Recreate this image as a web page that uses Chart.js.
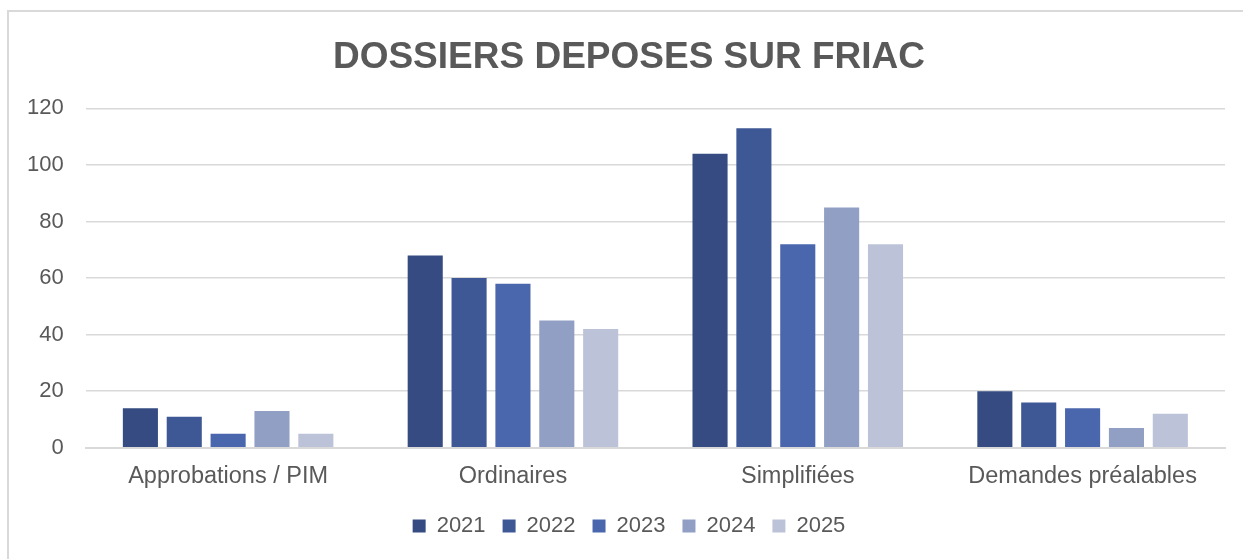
<!DOCTYPE html>
<html>
<head>
<meta charset="utf-8">
<script src="https://cdn.jsdelivr.net/npm/chart.js@4/dist/chart.umd.min.js"></script>
<style>
  html, body { margin: 0; padding: 0; background: #fff; overflow: hidden; }
  #cadre { position: absolute; left: 7px; top: 10px; width: 1260px; height: 600px;
           border-top: 2px solid #d9d9d9; border-left: 2px solid #d9d9d9; }
  #wrap { position: absolute; left: 0; top: 0; width: 1243px; height: 559px; }
</style>
</head>
<body>
<div id="cadre"></div>
<div id="wrap"><canvas id="friacChart"></canvas></div>
<script>
// Dossiers déposés sur FRIAC, par type et par année
const categories = ['Approbations / PIM', 'Ordinaires', 'Simplifiées', 'Demandes préalables'];
const annees = ['2021', '2022', '2023', '2024', '2025'];
const v2021 = [14, 68, 104, 20];
const v2022 = [11, 60, 113, 16];
const v2023 = [5, 58, 72, 14];
const v2024 = [13, 45, 85, 7];
const v2025 = [5, 42, 72, 12];
const couleurs = ['#354b81', '#3e5896', '#4a66ad', '#919fc5', '#bcc3d9'];

const series = [v2021, v2022, v2023, v2024, v2025];
const gris = '#595959';

// décale titre et légende vers la droite, comme dans le graphique Excel
const decalage = {
    id: 'decalage',
    afterLayout(chart) {
        chart.titleBlock.left += 14;
        chart.titleBlock.right += 14;
        chart.legend.left += 14;
        chart.legend.right += 14;
    }
};

document.addEventListener('DOMContentLoaded', function() {
    const ctx = document.getElementById('friacChart').getContext('2d');
    new Chart(ctx, {
        type: 'bar',
        data: {
            labels: categories,
            datasets: series.map((vals, i) => ({
                label: annees[i],
                data: vals,
                backgroundColor: couleurs[i],
                borderWidth: 0,
                categoryPercentage: 0.77,
                barPercentage: 0.8
            }))
        },
        plugins: [decalage],
        options: {
            responsive: true,
            maintainAspectRatio: false,
            animation: false,
            layout: { padding: { top: 11, left: 5, right: 18, bottom: 12 } },
            plugins: {
                title: {
                    display: true,
                    text: 'DOSSIERS DEPOSES SUR FRIAC',
                    color: gris,
                    font: { family: 'Liberation Sans, Arial', size: 37, weight: 'bold' },
                    padding: { top: 25, bottom: 28 }
                },
                legend: {
                    position: 'bottom',
                    labels: {
                        color: gris,
                        font: { family: 'Liberation Sans, Arial', size: 22 },
                        boxWidth: 13,
                        boxHeight: 13,
                        padding: 17
                    }
                },
                tooltip: { enabled: false }
            },
            scales: {
                x: {
                    grid: { display: false, drawTicks: false },
                    border: { color: '#d9d9d9', width: 2 },
                    ticks: {
                        color: gris,
                        font: { family: 'Liberation Sans, Arial', size: 23.5 },
                        padding: 15,
                        maxRotation: 0
                    },
                    // rapproche la légende des étiquettes
                    afterFit: function(scale) { scale.height -= 8; }
                },
                y: {
                    min: 0,
                    max: 120,
                    grid: { color: '#d9d9d9', lineWidth: 1.5, drawTicks: false },
                    border: { display: false },
                    ticks: {
                        stepSize: 20,
                        color: gris,
                        font: { family: 'Liberation Sans, Arial', size: 22 },
                        padding: 22
                    }
                }
            }
        }
    });
});
</script>
</body>
</html>
